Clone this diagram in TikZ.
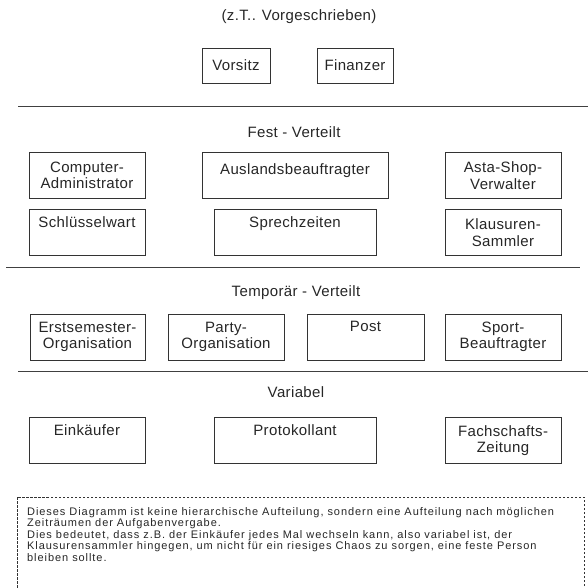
\documentclass[tikz,border=0pt]{standalone}
\usepackage{fontspec}
\setmainfont{Liberation Sans}
\begin{document}
\begin{tikzpicture}[x=1pt,y=-1pt,
    every node/.style={text=black!85, font=\fontsize{15}{16.5}\selectfont\addfontfeatures{LetterSpace=2.5}},
    posten/.style={draw=black!80, line width=0.9pt, align=center, inner sep=0pt, minimum height=46pt},
    trenner/.style={draw=black!75, line width=1pt},
    notiz/.style={align=left, inner sep=0pt, font=\fontsize{11}{11.6}\selectfont\addfontfeatures{LetterSpace=8.5}},
    ]
    \useasboundingbox (0,0) rectangle (588,588);

    % Vorgeschrieben
    \node (titel) at (299,17) {(z.T.. Vorgeschrieben)};
    \node[posten, minimum width=68pt, minimum height=35pt] (vorsitz) at (236,65.5) {Vorsitz};
    \node[posten, minimum width=76pt, minimum height=35pt] (finanzer) at (355,65.5) {Finanzer};

    \draw[trenner] (18,106.5) -- (588,106.5);

    % Fest verteilt
    \node (fest) at (294,132) {Fest - Verteilt};
    \node[posten, minimum width=116pt] (computer) at (87,175.5) {Computer-\\Administrator};
    \node[posten, minimum width=186pt] (ausland) at (295,175.5) {Auslandsbeauftragter\\[-8pt]\strut};
    \node[posten, minimum width=116pt] (asta) at (503,175.5) {Asta-Shop-\\Verwalter};
    \node[posten, minimum width=116pt] (schluessel) at (87,232.5) {Schlüsselwart\\\strut};
    \node[posten, minimum width=162pt] (sprech) at (295,232.5) {Sprechzeiten\\\strut};
    \node[posten, minimum width=116pt] (klausur) at (503,232.5) {Klausuren-\\Sammler};

    \draw[trenner] (6,267) -- (580,267);

    % Temporaer verteilt
    \node (temporaer) at (296,293) {Temporär - Verteilt};
    \node[posten, minimum width=115pt] (erstsemester) at (87.5,337) {Erstsemester-\\Organisation};
    \node[posten, minimum width=116pt] (party) at (226,337) {Party-\\Organisation};
    \node[posten, minimum width=117pt] (post) at (365.5,337) {Post\\\strut};
    \node[posten, minimum width=116pt] (sport) at (503,337) {Sport-\\Beauftragter};

    \draw[trenner] (18,371.5) -- (588,371.5);

    % Variabel
    \node (variabel) at (296,392) {Variabel};
    \node[posten, minimum width=116pt] (einkaeufer) at (87,440.5) {Einkäufer\\\strut};
    \node[posten, minimum width=162pt] (protokoll) at (295,440.5) {Protokollant\\\strut};
    \node[posten, minimum width=116pt] (zeitung) at (503,440.5) {Fachschafts-\\Zeitung};

    % Hinweis
    \draw[black!80, line width=1pt, dash pattern=on 2.5pt off 1.5pt] (17,497) rectangle (584,600);
    \node[notiz, anchor=north west] (hinweis) at (27,507) {Dieses Diagramm ist keine hierarchische Aufteilung, sondern eine Aufteilung nach möglichen\\
      Zeiträumen der Aufgabenvergabe.\\
      Dies bedeutet, dass z.B. der Einkäufer jedes Mal wechseln kann, also variabel ist, der\\
      Klausurensammler hingegen, um nicht für ein riesiges Chaos zu sorgen, eine feste Person\\
      bleiben sollte.};
  \end{tikzpicture}
\end{document}
